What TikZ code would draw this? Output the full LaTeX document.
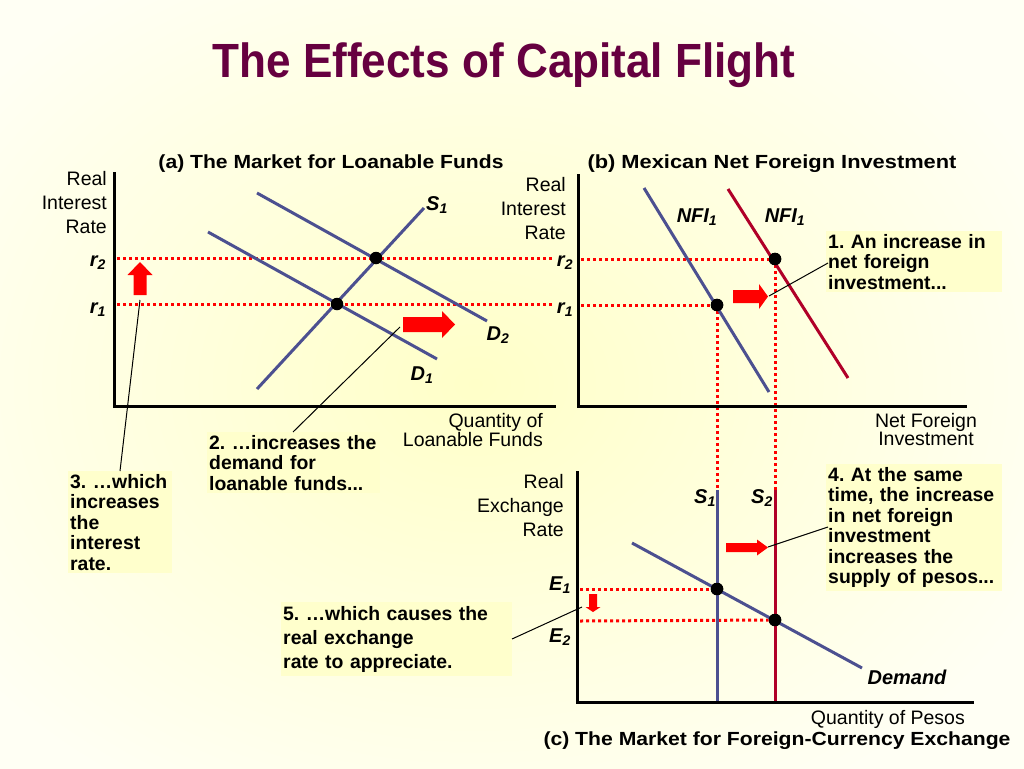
\documentclass[tikz,border=0pt]{standalone}
\usepackage{fontspec}
\setmainfont{Liberation Sans}
\definecolor{bgin}{HTML}{FFFFC8}
\definecolor{bgout}{HTML}{FFFFF4}
\definecolor{boxfill}{HTML}{FFFFCC}
\definecolor{titlecol}{HTML}{660040}
\definecolor{curveblue}{HTML}{4C5090}
\definecolor{curvered}{HTML}{B00028}
\frenchspacing
\newcommand\blockR[6]{% x y length bodyh headh headlen
  \fill[red] (#1,#2) ++(0,{-#4/2}) -- ++({#3-#6},0) -- ++(0,{-(#5-#4)/2}) -- ++(#6,{#5/2}) -- ++({-#6},{#5/2}) -- ++(0,{-(#5-#4)/2}) -- ++({-(#3-#6)},0) -- cycle;}
\newcommand\blockV[6]{% x ybase length(signed) bodyw headw headlen(signed)
  \fill[red] (#1,#2) ++({-#4/2},0) -- ++(0,{#3-#6}) -- ++({-(#5-#4)/2},0) -- ++({#5/2},#6) -- ++({#5/2},{-#6}) -- ++({-(#5-#4)/2},0) -- ++(0,{-(#3-#6)}) -- cycle;}
\newcommand\fitw[2]{\resizebox{#1}{\height}{#2}}
\tikzset{
  axis/.style={line width=3pt, line cap=rect},
  curveB/.style={line width=3pt, draw=curveblue},
  curveR/.style={line width=3pt, draw=curvered},
  guide/.style={draw=red, line width=3pt, dash pattern=on 3pt off 3pt},
  dot/.style={circle, fill=black, minimum size=12.5pt, inner sep=0pt},
  axlab/.style={font=\fontsize{19.5}{24}\selectfont, align=right, inner sep=0pt},
  rlab/.style={font=\fontsize{20}{20}\selectfont\bfseries\itshape, inner sep=0pt},
  ptitle/.style={font=\fontsize{19}{20}\selectfont\bfseries, inner sep=0pt},
  callout/.style={fill=boxfill, font=\fontsize{19.4}{20.5}\selectfont\bfseries, align=left, inner xsep=2pt, inner ysep=3pt, anchor=north west},
  leader/.style={draw=black, line width=1pt}
}
\begin{document}
\begin{tikzpicture}[x=1pt,y=-1pt]
\useasboundingbox (0,0) rectangle (1024,768);
\shade[inner color=bgin, outer color=bgout] (-150,-100) rectangle (1100,868);

% title
\node[font=\fontsize{48}{50}\selectfont\bfseries, text=titlecol, inner sep=0pt] (title) at (504,65) {\fitw{583pt}{The Effects of Capital Flight}};

% ---------------- panel (a)
\node[ptitle] (ta) at (331,164) {\fitw{345pt}{(a) The Market for Loanable Funds}};
\coordinate (aO) at (114,406);
\coordinate (aT) at (114,173);
\coordinate (aR) at (554,406);
\node[axlab, anchor=east] (ayl) at (107,203) {Real\\Interest\\Rate};
\node[axlab, anchor=north east, font=\fontsize{19.5}{16}\selectfont] (axl) at (543,413) {Quantity of\\Loanable Funds};
\node[rlab] (ar2) at (98,263) {r\textsubscript{2}};
\node[rlab] (ar1) at (98,310) {r\textsubscript{1}};
\coordinate (ag2a) at (117,258); \coordinate (ag2b) at (554,258);
\coordinate (ag1a) at (117,304); \coordinate (ag1b) at (554,304);
\draw[guide] (ag2a) -- (ag2b);
\draw[guide] (ag1a) -- (ag1b);
\coordinate (s1a) at (257,389); \coordinate (s1b) at (424,208);
\coordinate (d2a) at (257,193); \coordinate (d2b) at (487,321);
\coordinate (d1a) at (208,232); \coordinate (d1b) at (437,359);
\draw[curveB] (s1a) -- (s1b);
\draw[curveB] (d2a) -- (d2b);
\draw[curveB] (d1a) -- (d1b);
\node[rlab] (ls1) at (437,205) {S\textsubscript{1}};
\node[rlab] (ld2) at (498,335) {D\textsubscript{2}};
\node[rlab] (ld1) at (422,375) {D\textsubscript{1}};
\node[dot] (ea2) at (376,258) {};
\node[dot] (ea1) at (337,304) {};
\draw[axis] (aT) -- (aO) -- (aR);
\blockR{403}{324.5}{52}{15}{27}{13}
\blockV{140}{295}{-33}{13}{25}{-13}
\coordinate (arrA) at (400,327);
\coordinate (arrUp) at (140,300);

% callouts (a)
\node[callout, text width=169pt] (c2) at (207,432) {2. …increases the\\demand for\\loanable funds...};
\node[callout, text width=100pt] (c3) at (68,471) {3. …which\\increases\\the\\interest\\rate.};
\draw[leader] (293,432) -- (arrA);
\draw[leader] (120,471) -- (arrUp);

% ---------------- panel (b)
\node[ptitle] (tb) at (772,164) {\fitw{369pt}{(b) Mexican Net Foreign Investment}};
\coordinate (bO) at (578,406);
\coordinate (bT) at (578,175);
\coordinate (bR) at (965,406);
\node[axlab, anchor=east] (byl) at (566,209) {Real\\Interest\\Rate};
\node[axlab, align=center, anchor=north, font=\fontsize{19.5}{16}\selectfont] (bxl) at (926,413) {Net Foreign\\Investment};
\node[rlab] (br2) at (565,263) {r\textsubscript{2}};
\node[rlab] (br1) at (565,310) {r\textsubscript{1}};
\coordinate (nb1a) at (644,188); \coordinate (nb1b) at (769,392);
\coordinate (nb2a) at (728,189); \coordinate (nb2b) at (848,378);
\node[dot] (eb2) at (775,259) {};
\node[dot] (eb1) at (717,305) {};
\coordinate (bg2) at (581,259); \coordinate (bg1) at (581,305);
\draw[guide] (bg2) -- (eb2);
\draw[guide] (bg1) -- (eb1);
\coordinate (vs1) at (717,490); \coordinate (vs2) at (775,490);
\draw[guide] (eb1) -- (vs1);
\draw[guide] (eb2) -- (vs2);
\draw[curveB] (nb1a) -- (nb1b);
\draw[curveR] (nb2a) -- (nb2b);
\node[dot] at (eb2) {};
\node[dot] at (eb1) {};
\node[rlab] (lnfi1) at (697,217) {NFI\textsubscript{1}};
\node[rlab] (lnfi2) at (785,217) {NFI\textsubscript{1}};
\draw[axis] (bT) -- (bO) -- (bR);
\blockR{733}{296.5}{35}{13}{25}{9}
\coordinate (arrB) at (769,296);
\node[callout, text width=172pt] (c1) at (826,231) {1. An increase in\\net foreign\\investment...};
\draw[leader] (828,263) -- (arrB);

% ---------------- panel (c)
\coordinate (cO) at (577,702);
\coordinate (cT) at (577,472);
\coordinate (cR) at (972,702);
\node[axlab, anchor=east] (cyl) at (564,506) {Real\\Exchange\\Rate};
\node[axlab, anchor=east] (cxl) at (965,719) {Quantity of Pesos};
\node[ptitle] (tc) at (777,741) {\fitw{467pt}{(c) The Market for Foreign-Currency Exchange}};
\coordinate (s1top) at (717,490); \coordinate (s1bot) at (717,702);
\coordinate (s2top) at (775,490); \coordinate (s2bot) at (775,702);
\coordinate (dma) at (632,543); \coordinate (dmb) at (862,668);
\node[dot] (ec1) at (717,589) {};
\node[dot] (ec2) at (775,620) {};
\coordinate (cg1) at (580,589); \coordinate (cg2) at (580,621);
\draw[guide] (cg1) -- (ec1);
\draw[guide] (cg2) -- (ec2);
\draw[curveB] (s1top) -- (s1bot);
\draw[curveR] (s2top) -- (s2bot);
\draw[curveB] (dma) -- (dmb);
\node[dot] at (ec1) {};
\node[dot] at (ec2) {};
\node[rlab] (lsc1) at (705,498) {S\textsubscript{1}};
\node[rlab] (lsc2) at (762,498) {S\textsubscript{2}};
\node[rlab] (le1) at (560,585) {E\textsubscript{1}};
\node[rlab] (le2) at (560,637) {E\textsubscript{2}};
\node[rlab] (ldem) at (907,677) {Demand};
\draw[axis] (cT) -- (cO) -- (cR);
\blockR{726}{547.5}{42}{9}{16}{11}
\coordinate (arrC) at (768,547);
\blockV{593}{594}{18}{8}{15}{5}
\coordinate (arrDn) at (582,607);
\node[callout, text width=172pt] (c4) at (826,464) {4. At the same\\time, the increase\\in net foreign\\investment\\increases the\\supply of pesos...};
\draw[leader] (828,527) -- (arrC);
\node[callout, font=\fontsize{19.4}{24}\selectfont\bfseries, inner ysep=4pt, text width=227pt] (c5) at (281,602) {5. …which causes the\\real exchange\\rate to appreciate.};
\draw[leader] (512,639) -- (arrDn);
\end{tikzpicture}
\end{document}
